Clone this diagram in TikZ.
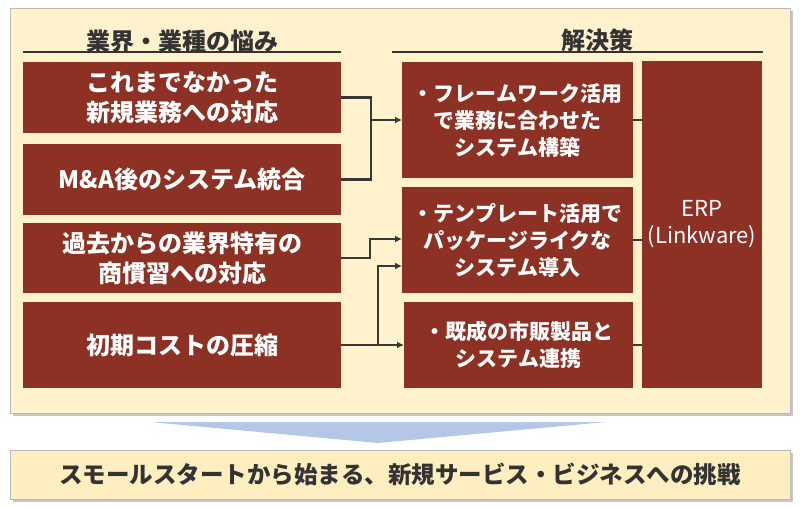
\documentclass[tikz,border=0pt]{standalone}
\usepackage{fontspec}
\setmainfont{Noto Sans CJK JP}
\usetikzlibrary{arrows.meta,calc}
\definecolor{cream}{HTML}{FFF2CC}
\definecolor{cream2}{HTML}{FFEFC0}
\definecolor{brick}{HTML}{8C3123}
\definecolor{ink}{HTML}{333333}
\definecolor{linec}{HTML}{383838}
\definecolor{arrowblue}{HTML}{B4C7E7}
\tikzset{
  box/.style={fill=brick, text=white, inner sep=0pt, outer sep=0pt, align=center, font=\bfseries\fontsize{24}{30}\selectfont},
  sbox/.style={box, font=\bfseries\fontsize{21}{27}\selectfont},
  head/.style={text=ink, inner sep=0pt, font=\bfseries\fontsize{24}{28}\selectfont},
  rulel/.style={draw=ink, line width=1.5pt},
  conn/.style={draw=linec, line width=2.4pt},
  arr/.style={conn, -{Latex[length=7pt,width=7pt]}},
}
\begin{document}
\begin{tikzpicture}[x=1pt,y=-1pt]
\useasboundingbox (0,0) rectangle (800,508);
% top panel
\fill[gray!45] (13,11) rectangle (793,416);
\fill[cream, draw=gray!55, line width=0.6pt] (10,8) rectangle (790,413);
% headings
\node[head] (h1) at (182,41) {業界・業種の悩み};
\node[head] (h2) at (597,40) {解決策};
\draw[rulel] (23,52) -- (341,52);
\draw[rulel] (392,52) -- (763,52);
% left boxes
\node[box, minimum width=318pt, minimum height=71pt] (b1) at (182,97.5) {これまでなかった\\新規業務への対応};
\node[box, minimum width=318pt, minimum height=71pt] (b2) at (182,179.5) {M\&A後のシステム統合};
\node[box, minimum width=318pt, minimum height=70pt] (b3) at (182,258) {過去からの業界特有の\\商慣習への対応};
\node[box, minimum width=318pt, minimum height=86pt] (b4) at (182,345) {初期コストの圧縮};
% solution boxes
\node[sbox, minimum width=231pt, minimum height=116pt] (sA) at (517.5,120) {・フレームワーク活用\\で業務に合わせた\\システム構築};
\node[sbox, minimum width=231pt, minimum height=106pt] (sB) at (517.5,240) {・テンプレート活用で\\パッケージライクな\\システム導入};
\node[sbox, minimum width=229pt, minimum height=86pt] (sC) at (518.5,345) {・既成の市販製品と\\システム連携};
\node[sbox, font=\mdseries\fontsize{22}{27}\selectfont, minimum width=120pt, minimum height=327pt] (erp) at (702,224.5) {ERP\\(Linkware)};
% connectors
\coordinate (j1) at (371,120);
\draw[conn] (b1.east) -| (j1);
\draw[conn] (b2.east) -| (j1);
\draw[arr] (j1) -- (sA.west);
\draw[arr] (b3.east) -- ++(29,0) |- ($(sB.west)+(0,-1)$);
\coordinate (j4) at ($(b4.east)+(37,0)$);
\draw[arr] (b4.east) -- (sC.west);
\draw[arr] (j4) |- ($(sB.west)+(0,26)$);
\draw[conn] (sA.east) -- (sA.east -| erp.west);
\draw[conn] (sB.east) -- (sB.east -| erp.west);
\draw[conn] (sC.east) -- (sC.east -| erp.west);
% blue arrow
\fill[arrowblue] (150,422) -- (606,422) -- (378,443) -- cycle;
% bottom box
\fill[gray!45] (13,453) rectangle (793,502);
\node[fill=cream2, draw=gray!55, line width=0.6pt, minimum width=780pt, minimum height=49pt, inner sep=0pt, text=ink, font=\bfseries\fontsize{23.5}{28}\selectfont] (goal) at (400,474.5) {スモールスタートから始まる、新規サービス・ビジネスへの挑戦};
\end{tikzpicture}
\end{document}
